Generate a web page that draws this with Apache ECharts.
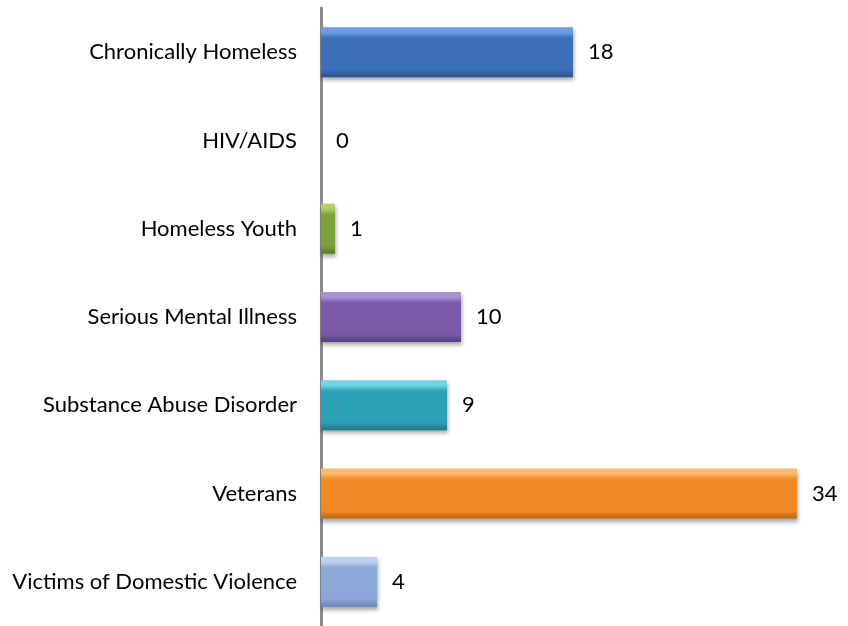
<!DOCTYPE html>
<html>
<head>
<meta charset="utf-8">
<script src="https://cdn.jsdelivr.net/npm/echarts@6/dist/echarts.min.js"></script>
<style>
html,body{margin:0;padding:0;background:#fff;}
#chart{width:848px;height:626px;}
</style>
</head>
<body>
<div id="chart"></div>
<script>
const categories = ["Chronically Homeless","HIV/AIDS","Homeless Youth","Serious Mental Illness","Substance Abuse Disorder","Veterans","Victims of Domestic Violence"];
const values = [18, 0, 1, 10, 9, 34, 4];
const bodyColors = ["#3b70b8","#3b70b8","#7ba33a","#7a5aa8","#2ea0b8","#f08a24","#8ba8d8"];
const lightColors = ["#6c9fe2","#6c9fe2","#aed065","#ab92d4","#72d3e6","#ffb86a","#bcd0f0"];
const darkColors = ["#2a548e","#2a548e","#587824","#563d7e","#1d778b","#bd6615","#6884b4"];

function grad(i){
  return new echarts.graphic.LinearGradient(0,0,0,1,[
    {offset:0, color: lightColors[i]},
    {offset:0.1, color: lightColors[i]},
    {offset:0.22, color: bodyColors[i]},
    {offset:0.84, color: bodyColors[i]},
    {offset:1, color: darkColors[i]}
  ]);
}

const chart = echarts.init(document.getElementById('chart'), null, {renderer:'canvas'});
chart.setOption({
  animation:false,
  backgroundColor:'#ffffff',
  grid:{left:321, top:8, width:560, height:618, containLabel:false, outerBoundsMode:'none'},
  xAxis:{type:'value', min:0, max:40, show:false, splitLine:{show:false}},
  yAxis:{
    type:'category', data:categories, inverse:true,
    axisTick:{show:false},
    axisLine:{show:true, lineStyle:{color:'#8a8a8a', width:3}},
    axisLabel:{margin:24, fontSize:22, color:'#000', fontFamily:'Lato'}
  },
  series:[{
    type:'bar',
    barWidth:50,
    data: values.map((v,i)=>({value:v, itemStyle:{color:grad(i)}})),
    itemStyle:{shadowColor:'rgba(0,0,0,0.35)', shadowBlur:4, shadowOffsetX:1, shadowOffsetY:3},
    label:{show:true, position:'right', distance:15, fontSize:22, color:'#000', fontFamily:'Lato'}
  }]
});
</script>
</body>
</html>
